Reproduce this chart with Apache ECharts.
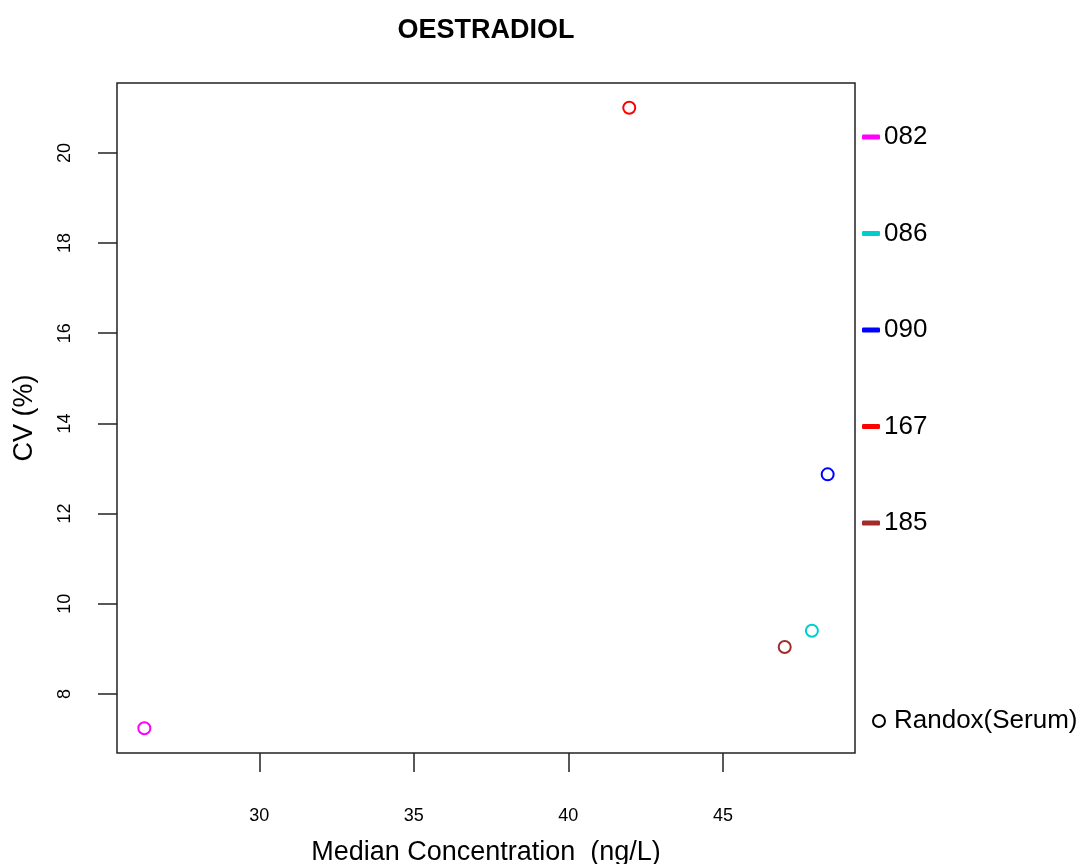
<!DOCTYPE html>
<html>
<head>
<meta charset="utf-8">
<script src="https://cdn.jsdelivr.net/npm/echarts@6/dist/echarts.min.js"></script>
<style>
  html, body { margin: 0; padding: 0; background: #fff; }
  #chart { width: 1087px; height: 864px; }
</style>
</head>
<body>
<div id="chart"></div>
<script>
// Laboratory codes and their colours
const labs = ['082', '086', '090', '167', '185'];
const labColors = ['#FF00FF', '#00CDCD', '#0000FF', '#FF0000', '#A52A2A'];
// Median concentration (ng/L) and CV (%) per laboratory
const medianConc = [26.28, 47.88, 48.39, 41.97, 47.0];
const cvPercent = [7.24, 9.40, 12.87, 21.0, 9.04];
// Tick positions
const xTicks = [30, 35, 40, 45];
const yTicks = [8, 10, 12, 14, 16, 18, 20];
const matrixName = 'Randox(Serum)';

// Axis ranges padded 4% around the data, as in base R graphics
function paddedRange(v) {
  const lo = Math.min(...v), hi = Math.max(...v), d = (hi - lo) * 0.04;
  return [lo - d, hi + d];
}
const xr = paddedRange(medianConc);
const yr = paddedRange(cvPercent);

const font = "'Liberation Sans', Arial, sans-serif";

const series = labs.map((lab, i) => ({
  name: lab,
  type: 'scatter',
  symbol: 'circle',
  symbolSize: 12,
  itemStyle: { color: 'rgba(0,0,0,0)', borderColor: labColors[i], borderWidth: 2, opacity: 1 },
  data: [[medianConc[i], cvPercent[i]]]
}));
series.push({
  name: matrixName,
  type: 'scatter',
  symbol: 'circle',
  symbolSize: 12,
  itemStyle: { color: 'rgba(0,0,0,0)', borderColor: '#000', borderWidth: 1.8, opacity: 1 },
  data: []
});

const chart = echarts.init(document.getElementById('chart'), null, { renderer: 'canvas' });
chart.setOption({
  animation: false,
  backgroundColor: '#fff',
  textStyle: { fontFamily: font },
  title: {
    text: 'OESTRADIOL',
    left: 486, top: 17,
    padding: 0,
    textAlign: 'center',
    textStyle: { fontFamily: font, fontSize: 27, fontWeight: 'bold', color: '#000' }
  },
  grid: {
    left: 117, right: 232, top: 83, bottom: 111,
    outerBoundsMode: 'none',
    containLabel: false,
    show: true, borderColor: '#222', borderWidth: 1.5, backgroundColor: 'transparent'
  },
  legend: [
    {
      data: labs.map((lab, i) => ({
        name: lab,
        icon: 'roundRect',
        itemStyle: { color: labColors[i], borderWidth: 0, opacity: 1 }
      })),
      orient: 'vertical',
      left: 857, top: 117,
      itemWidth: 18, itemHeight: 5,
      itemGap: 66.5,
      selectedMode: false,
      textStyle: { fontFamily: font, fontSize: 26, color: '#000', lineHeight: 30, padding: [0, 0, 0, -1] }
    },
    {
      data: [{ name: matrixName, icon: 'circle' }],
      orient: 'vertical',
      left: 867, top: 701,
      itemWidth: 12, itemHeight: 12,
      selectedMode: false,
      textStyle: { fontFamily: font, fontSize: 26, color: '#000', lineHeight: 30, padding: [0, 0, 0, 4] }
    }
  ],
  xAxis: {
    type: 'value',
    min: xr[0], max: xr[1],
    name: 'Median Concentration  (ng/L)',
    nameLocation: 'middle',
    nameGap: 86,
    nameTextStyle: { fontFamily: font, fontSize: 27, color: '#000' },
    axisLine: { show: false },
    splitLine: { show: false },
    axisTick: { show: true, inside: false, length: 19, customValues: xTicks, lineStyle: { color: '#222', width: 1.5 } },
    axisLabel: { customValues: xTicks, margin: 54, fontFamily: font, fontSize: 18, color: '#000' }
  },
  yAxis: {
    type: 'value',
    min: yr[0], max: yr[1],
    name: 'CV (%)',
    nameLocation: 'middle',
    nameGap: 79,
    nameTextStyle: { fontFamily: font, fontSize: 27, color: '#000' },
    axisLine: { show: false },
    splitLine: { show: false },
    axisTick: { show: true, inside: false, length: 19, customValues: yTicks, lineStyle: { color: '#222', width: 1.5 } },
    axisLabel: { customValues: yTicks, rotate: 90, margin: 43, fontFamily: font, fontSize: 18, color: '#000' }
  },
  series: series
});
</script>
</body>
</html>
